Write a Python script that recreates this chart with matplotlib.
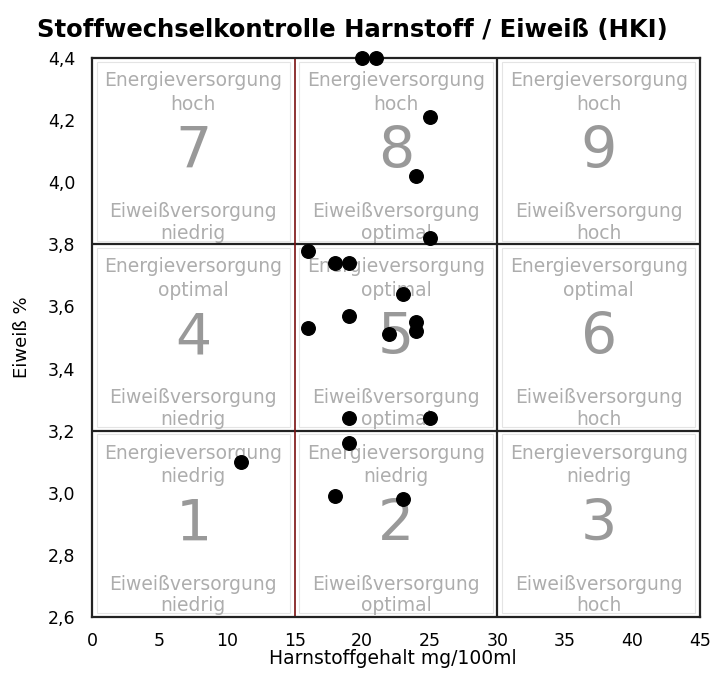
import matplotlib
matplotlib.use("Agg")
import matplotlib.pyplot as plt
from matplotlib.patches import Rectangle

plt.rcParams['font.family'] = ['DejaVu Sans']

# Data
harnstoff = [20, 21, 25, 24, 25, 16, 18, 19, 23, 19, 16, 24, 24, 22, 19, 25, 19, 11, 18, 23]
eiweiss = [4.40, 4.40, 4.21, 4.02, 3.82, 3.78, 3.74, 3.74, 3.64, 3.57, 3.53, 3.55, 3.52, 3.51,
           3.24, 3.24, 3.16, 3.10, 2.99, 2.98]

x_bounds = [0, 15, 30, 45]
y_bounds = [2.6, 3.2, 3.8, 4.4]
energie = ["niedrig", "optimal", "hoch"]      # by row (bottom to top)
eiweiss_lvl = ["niedrig", "optimal", "hoch"]  # by column (left to right)
x_ticks = [0, 5, 10, 15, 20, 25, 30, 35, 40, 45]
y_ticks = [2.6, 2.8, 3.0, 3.2, 3.4, 3.6, 3.8, 4.0, 4.2, 4.4]

fig = plt.figure(figsize=(7.11, 6.97), dpi=100)
ax = fig.add_axes([92/711, 80/697, 608/711, 559/697])
ax.set_xlim(0, 45)
ax.set_ylim(2.6, 4.4)

txt_col = '#adadad'
num_col = '#999999'
fs = 13.5
for r in range(3):
    for c in range(3):
        x0, x1 = x_bounds[c], x_bounds[c + 1]
        y0, y1 = y_bounds[r], y_bounds[r + 1]
        xc = (x0 + x1) / 2
        h = y1 - y0
        ax.add_patch(Rectangle((x0 + 0.35, y0 + 0.012), (x1 - x0) - 0.7, h - 0.024,
                               facecolor='white', edgecolor='#e4e4e4', lw=0.8, zorder=1))
        ax.text(xc, y1 - 0.090, "Energieversorgung", ha='center', va='baseline',
                fontsize=fs, color=txt_col, zorder=2)
        ax.text(xc, y1 - 0.166, energie[r], ha='center', va='baseline',
                fontsize=fs, color=txt_col, zorder=2)
        ax.text(xc, y1 - 0.354, str(r * 3 + c + 1), ha='center', va='baseline',
                fontsize=41, color=num_col, zorder=2)
        ax.text(xc, y1 - 0.512, "Eiweißversorgung", ha='center', va='baseline',
                fontsize=fs, color=txt_col, zorder=2)
        ax.text(xc, y1 - 0.582, eiweiss_lvl[c], ha='center', va='baseline',
                fontsize=fs, color=txt_col, zorder=2)

for yb in y_bounds[1:3]:
    ax.axhline(yb, color='#222222', lw=1.6, zorder=3)
ax.axvline(30, color='#222222', lw=1.6, zorder=3)
ax.axvline(15, color='#7a1010', lw=1.2, zorder=3)

for s in ax.spines.values():
    s.set_color('#222222')
    s.set_linewidth(1.6)
    s.set_zorder(3)

ax.scatter(harnstoff, eiweiss, s=95, color='black', zorder=5, clip_on=False)

ax.set_xticks(x_ticks)
ax.set_xticklabels([str(t) for t in x_ticks], fontsize=12.5)
ax.set_yticks(y_ticks)
ax.set_yticklabels([f"{t:.1f}".replace('.', ',') for t in y_ticks], fontsize=12.5)
ax.tick_params(axis='x', length=0, pad=11)
ax.tick_params(axis='y', length=0, pad=12)

fig.text(393/711, 1 - 659/697, "Harnstoffgehalt mg/100ml", ha='center', va='center',
         fontsize=13.5)
fig.text(22/711, 1 - 337/697, "Eiweiß %", ha='center', va='center', rotation=90,
         fontsize=13)

fig.text(0.495, 0.957, "Stoffwechselkontrolle Harnstoff / Eiweiß (HKI)",
         ha='center', va='center', fontsize=17.5, fontweight='bold')

fig.savefig("out.png", dpi=100)
